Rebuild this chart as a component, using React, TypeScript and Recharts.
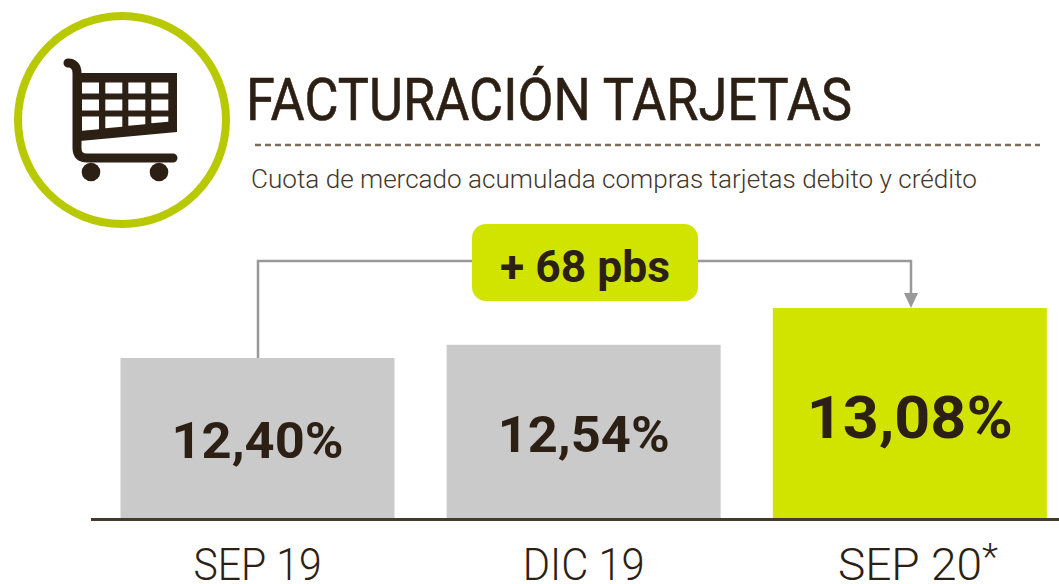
import React from 'react';
import { BarChart, Bar, Cell, XAxis, YAxis, LabelList } from 'recharts';

const categories = ['SEP 19', 'DIC 19', 'SEP 20*'];
const valueLabels = ['12,40%', '12,54%', '13,08%'];
// bar heights as drawn in the picture; the middle bar is a little taller than its label says
const drawnValues = [12.4, 12.58, 13.08];
const barColors = ['#cacaca', '#cacaca', '#d1e400'];

const data = categories.map((name, i) => ({ name, value: drawnValues[i], label: valueLabels[i] }));

const DARK = '#2c1f14';
const SOFT = '#44372a';
const FONT = 'Roboto, sans-serif';
const labelWidths = [172, 172, 206];
const labelSizes = [50, 50, 60];
const labelDrops = [20, 21, 25];
const tickWidths = [128, 122, 160];
const tickShifts = [0, 0, 8];

const CategoryTick = ({ x, y, index, payload }: any) => {
  const text = String(payload.value);
  const starred = text.endsWith('*');
  return (
    <text
      x={x + tickShifts[index]}
      y={y + 54}
      textAnchor="middle"
      fontFamily={FONT}
      fontWeight={300}
      fontSize={44}
      fill={DARK}
      textLength={tickWidths[index]}
      lengthAdjust="spacingAndGlyphs"
    >
      {starred ? text.slice(0, -1) : text}
      {starred && (
        <tspan fontSize={36} dy={-11}>
          *
        </tspan>
      )}
    </text>
  );
};

const BarValue = ({ x, y, width, height, index, value }: any) => (
  <text
    x={x + width / 2}
    y={y + height / 2 + labelDrops[index]}
    textAnchor="middle"
    fontFamily={FONT}
    fontWeight={700}
    fontSize={labelSizes[index]}
    fill={DARK}
    textLength={labelWidths[index]}
    lengthAdjust="spacingAndGlyphs"
  >
    {value}
  </text>
);

const cartCols = [82, 105.3, 128.3, 151.3];

const CartIcon = () => (
  <g>
    <circle cx={122} cy={120} r={104} fill="none" stroke="#b9c900" strokeWidth={8} />
    <path d="M68 63 C74 63 77 67 77 73 L77 148 Q77 158 87 158 L173 158" fill="none" stroke={DARK} strokeWidth={9} strokeLinecap="round" />
    <path d="M80 73 L177 73 L177 132 L80 141 Z" fill={DARK} />
    {cartCols.map((cx, i) => (
      <g key={cx} fill="#fff">
        <rect x={cx} y={82.5} width={17} height={11} />
        <rect x={cx} y={99.5} width={17} height={11} />
        <path d={`M${cx} 116.5 h17 v${12.7 - i * 2.5} L${cx} ${130.7 - i * 2.5} Z`} />
      </g>
    ))}
    <circle cx={91} cy={172} r={9.3} fill={DARK} />
    <circle cx={159} cy={172} r={9.3} fill={DARK} />
  </g>
);

export default function App() {
  return (
    <div style={{ position: 'absolute', left: 0, top: 0, width: 1059, height: 584, overflow: 'hidden', background: '#fff' }}>
      <BarChart
        width={1073}
        height={584}
        data={data}
        margin={{ top: 308, right: 0, bottom: 0, left: 94.5 }}
        barCategoryGap={0}
      >
        <XAxis dataKey="name" height={66} axisLine={false} tickLine={false} interval={0} tick={<CategoryTick />} />
        <YAxis hide width={0} domain={[10.22, 13.08]} />
        <Bar dataKey="value" barSize={274} isAnimationActive={false}>
          {data.map((d, i) => (
            <Cell key={d.name} fill={barColors[i]} />
          ))}
          <LabelList dataKey="label" content={<BarValue />} />
        </Bar>
      </BarChart>

      <svg width={1059} height={584} style={{ position: 'absolute', left: 0, top: 0, pointerEvents: 'none' }}>
        <CartIcon />
        <text x={246} y={120} fontFamily={FONT} fontSize={60} fill={DARK} stroke={DARK} strokeWidth={0.6} textLength={606} lengthAdjust="spacingAndGlyphs">
          FACTURACIÓN TARJETAS
        </text>
        <line x1={255} y1={145} x2={1040} y2={145} stroke="#7d6c5c" strokeWidth={2.5} strokeDasharray="6 4" />
        <text x={251} y={188} fontFamily={FONT} fontWeight={300} fontSize={26} fill={SOFT} textLength={726} lengthAdjust="spacingAndGlyphs">
          Cuota de mercado acumulada compras tarjetas debito y crédito
        </text>

        <line x1={91} y1={519.5} x2={1059} y2={519.5} stroke="#43392c" strokeWidth={3} />

        <path d="M258 358 V261 H472 M698 261 H911 V294" fill="none" stroke="#999" strokeWidth={2.5} />
        <path d="M904 293 H918 L911 308 Z" fill="#999" />
        <rect x={472} y={224} width={226} height={77} rx={14} fill="#d1e400" />
        <text x={585} y={282} textAnchor="middle" fontFamily={FONT} fontWeight={700} fontSize={44} fill={DARK} textLength={170} lengthAdjust="spacingAndGlyphs">
          + 68 pbs
        </text>
      </svg>
    </div>
  );
}
